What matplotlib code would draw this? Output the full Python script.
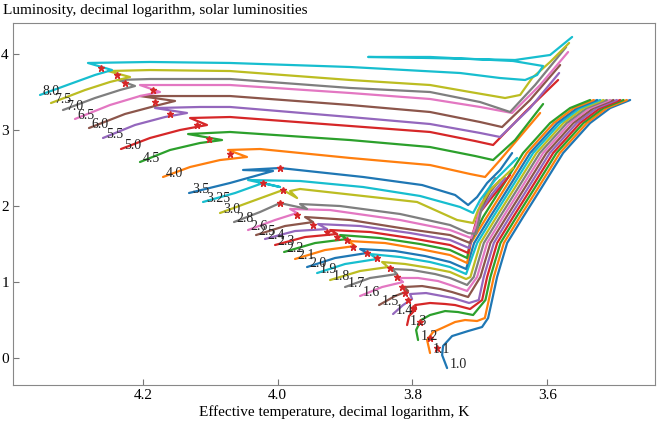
import matplotlib
matplotlib.use("Agg")
import matplotlib.pyplot as plt

plt.rcParams['font.family'] = ['Liberation Serif', 'DejaVu Serif']

# Track labels (stellar mass, solar masses), in plotting order
masses = ['1.0', '1.1', '1.2', '1.3', '1.4', '1.5', '1.6', '1.7', '1.8', '1.9',
          '2.0', '2.1', '2.2', '2.3', '2.4', '2.5', '2.6', '2.8', '3.0', '3.25',
          '3.5', '4.0', '4.5', '5.0', '5.5', '6.0', '6.5', '7.0', '7.5', '8.0']

# log Teff of each evolutionary track
track_logt = [
    [3.7486, 3.7560, 3.7546, 3.7412, 3.7174, 3.6967, 3.6877, 3.6818, 3.6744, 3.6595, 3.6358, 3.6105, 3.5764, 3.5363, 3.5066, 3.4769],
    [3.7739, 3.7783, 3.7694, 3.7560, 3.7367, 3.7219, 3.7041, 3.6926, 3.6867, 3.6793, 3.6644, 3.6407, 3.6154, 3.5813, 3.5412, 3.5115, 3.4818],
    [3.7917, 3.7946, 3.7872, 3.7739, 3.7516, 3.7323, 3.7100, 3.6917, 3.6843, 3.6694, 3.6457, 3.6204, 3.5863, 3.5462, 3.5165, 3.4868],
    [3.8080, 3.8050, 3.7946, 3.7961, 3.7739, 3.7516, 3.7367, 3.7145, 3.6966, 3.6892, 3.6743, 3.6506, 3.6253, 3.5912, 3.5511, 3.5214, 3.4917],
    [3.8288, 3.8140, 3.8006, 3.8036, 3.7798, 3.7560, 3.7397, 3.7160, 3.7016, 3.6942, 3.6793, 3.6556, 3.6303, 3.5962, 3.5561, 3.5264, 3.4967],
    [3.8496, 3.8258, 3.8065, 3.8125, 3.7857, 3.7590, 3.7412, 3.7174, 3.6992, 3.6843, 3.6606, 3.6353, 3.6012, 3.5611, 3.5314, 3.5017],
    [3.8778, 3.8451, 3.8140, 3.8214, 3.7917, 3.7620, 3.7442, 3.7189, 3.7041, 3.6892, 3.6655, 3.6402, 3.6061, 3.5660, 3.5363, 3.5066],
    [3.9001, 3.8629, 3.8229, 3.8303, 3.8006, 3.7664, 3.7442, 3.7189, 3.7090, 3.6941, 3.6704, 3.6451, 3.6110, 3.5709, 3.5412, 3.5115],
    [3.9223, 3.8778, 3.8362, 3.8451, 3.8110, 3.7739, 3.7442, 3.7204, 3.7140, 3.6991, 3.6754, 3.6501, 3.6160, 3.5759, 3.5462, 3.5165],
    [3.9416, 3.9001, 3.8526, 3.8629, 3.8184, 3.7739, 3.7442, 3.7204, 3.7040, 3.6803, 3.6550, 3.6209, 3.5808, 3.5511, 3.5214],
    [3.9565, 3.9149, 3.8674, 3.8778, 3.8258, 3.7813, 3.7442, 3.7204, 3.7085, 3.6848, 3.6595, 3.6254, 3.5853, 3.5556, 3.5259],
    [3.9743, 3.9298, 3.8852, 3.8956, 3.8407, 3.7887, 3.7442, 3.7189, 3.7134, 3.6897, 3.6644, 3.6303, 3.5902, 3.5605, 3.5308],
    [3.9906, 3.9446, 3.8971, 3.9075, 3.8481, 3.7887, 3.7442, 3.7189, 3.7145, 3.6952, 3.6699, 3.6358, 3.5957, 3.5660, 3.5363],
    [4.0040, 3.9595, 3.9119, 3.9223, 3.8629, 3.8036, 3.7442, 3.7174, 3.7115, 3.7026, 3.6803, 3.6551],
    [4.0189, 3.9743, 3.9268, 3.9402, 3.8778, 3.8036, 3.7442, 3.7160, 3.7085, 3.6996, 3.6818, 3.6625],
    [4.0322, 3.9892, 3.9476, 3.9595, 3.8926, 3.8184, 3.7442, 3.7145, 3.7070, 3.6996, 3.6848, 3.6699],
    [4.0441, 4.0040, 3.9713, 3.9817, 3.9223, 3.8184, 3.7442, 3.7130, 3.7056, 3.6996, 3.6848, 3.6744],
    [4.0649, 4.0263, 3.9966, 3.9565, 3.9669, 3.9075, 3.8184, 3.7442, 3.7174, 3.7056, 3.6996, 3.6922, 3.6774],
    [4.0857, 4.0411, 3.9921, 3.9713, 3.9817, 3.9669, 3.7932, 3.7338, 3.7100, 3.7026, 3.6848, 3.6506],
    [4.1109, 4.0634, 4.0218, 3.9966, 4.0441, 3.9669, 3.8733, 3.7887, 3.7293, 3.7100, 3.6996, 3.6774, 3.6447],
    [4.1317, 4.0708, 4.0070, 4.0515, 3.9966, 3.8733, 3.7857, 3.7367, 3.7174, 3.7041, 3.6892, 3.6699, 3.6521],
    [4.1703, 4.1302, 4.0857, 4.0456, 4.0738, 4.0263, 3.8926, 3.7739, 3.7144, 3.6922, 3.6699, 3.6105],
    [4.2045, 4.1599, 4.1154, 4.0827, 4.1331, 4.0708, 3.8926, 3.7739, 3.7070, 3.6803, 3.6477, 3.6061],
    [4.2327, 4.1896, 4.1451, 4.1050, 4.1302, 4.0708, 3.8926, 3.7739, 3.7070, 3.6803, 3.6328, 3.5838],
    [4.2594, 4.2119, 4.1674, 4.1347, 4.1822, 4.1154, 4.0708, 3.8926, 3.7739, 3.6996, 3.6699, 3.6254, 3.5823],
    [4.2802, 4.2267, 4.1822, 4.1525, 4.2045, 4.1154, 4.0708, 3.8926, 3.7739, 3.6996, 3.6670, 3.6254, 3.5808],
    [4.3010, 4.2490, 4.2045, 4.1748, 4.2045, 4.1451, 4.0708, 3.8926, 3.7739, 3.6996, 3.6521, 3.6105, 3.5690],
    [4.3188, 4.2713, 4.2342, 4.2119, 4.2371, 4.1896, 4.0708, 3.8926, 3.7739, 3.6996, 3.6551, 3.6180, 3.5719],
    [4.3366, 4.2861, 4.2490, 4.2193, 4.2520, 4.1896, 4.0708, 3.8926, 3.7739, 3.7145, 3.6625, 3.6402, 3.6224, 3.5957, 3.5675],
    [4.3529, 4.3084, 4.2713, 4.2460, 4.2817, 4.1896, 4.0708, 3.8926, 3.7293, 3.6699, 3.6328, 3.6150, 3.6061, 3.6506, 3.7739, 3.8659, 3.7739, 3.6477, 3.5957, 3.5630],
]

# log L / Lsun of each evolutionary track
track_logl = [
    [-0.132, 0.039, 0.158, 0.289, 0.355, 0.408, 0.526, 0.763, 1.066, 1.513, 1.855, 2.211, 2.697, 3.092, 3.289, 3.395],
    [0.066, 0.237, 0.342, 0.395, 0.474, 0.500, 0.487, 0.526, 0.763, 1.066, 1.513, 1.855, 2.211, 2.697, 3.092, 3.289, 3.395],
    [0.237, 0.368, 0.500, 0.566, 0.618, 0.605, 0.566, 0.763, 1.066, 1.513, 1.855, 2.211, 2.697, 3.092, 3.289, 3.395],
    [0.434, 0.553, 0.645, 0.697, 0.724, 0.711, 0.697, 0.645, 0.763, 1.066, 1.513, 1.855, 2.211, 2.697, 3.092, 3.289, 3.395],
    [0.579, 0.697, 0.776, 0.842, 0.855, 0.816, 0.789, 0.724, 0.763, 1.066, 1.513, 1.855, 2.211, 2.697, 3.092, 3.289, 3.395],
    [0.697, 0.816, 0.882, 0.934, 0.947, 0.908, 0.868, 0.803, 1.066, 1.513, 1.855, 2.211, 2.697, 3.092, 3.289, 3.395],
    [0.816, 0.934, 1.000, 1.053, 1.053, 1.013, 0.961, 0.882, 1.066, 1.513, 1.855, 2.211, 2.697, 3.092, 3.289, 3.395],
    [0.934, 1.053, 1.105, 1.171, 1.158, 1.105, 1.053, 0.961, 1.066, 1.513, 1.855, 2.211, 2.697, 3.092, 3.289, 3.395],
    [1.026, 1.145, 1.197, 1.263, 1.237, 1.184, 1.132, 1.039, 1.066, 1.513, 1.855, 2.211, 2.697, 3.092, 3.289, 3.395],
    [1.118, 1.237, 1.303, 1.368, 1.329, 1.263, 1.197, 1.105, 1.513, 1.855, 2.211, 2.697, 3.092, 3.289, 3.395],
    [1.197, 1.316, 1.382, 1.434, 1.408, 1.342, 1.263, 1.171, 1.513, 1.855, 2.211, 2.697, 3.092, 3.289, 3.395],
    [1.303, 1.421, 1.474, 1.540, 1.513, 1.434, 1.355, 1.250, 1.513, 1.855, 2.211, 2.697, 3.092, 3.289, 3.395],
    [1.395, 1.513, 1.566, 1.618, 1.579, 1.500, 1.421, 1.316, 1.513, 1.855, 2.211, 2.697, 3.092, 3.289, 3.395],
    [1.487, 1.592, 1.632, 1.684, 1.658, 1.579, 1.487, 1.382, 1.605, 1.882, 2.132, 2.408],
    [1.566, 1.671, 1.697, 1.763, 1.737, 1.645, 1.553, 1.447, 1.658, 1.921, 2.158, 2.368],
    [1.618, 1.737, 1.789, 1.855, 1.816, 1.711, 1.618, 1.513, 1.711, 1.947, 2.184, 2.342],
    [1.684, 1.816, 1.908, 1.961, 1.947, 1.816, 1.684, 1.579, 1.750, 2.013, 2.211, 2.303],
    [1.789, 1.921, 2.039, 1.961, 2.026, 2.000, 1.895, 1.750, 1.645, 1.632, 1.882, 2.145, 2.368],
    [1.908, 2.053, 2.211, 2.105, 2.197, 2.224, 2.053, 1.816, 1.776, 1.947, 2.211, 2.500],
    [2.053, 2.171, 2.303, 2.250, 2.342, 2.329, 2.250, 2.132, 1.987, 1.908, 2.079, 2.342, 2.632],
    [2.171, 2.303, 2.461, 2.474, 2.500, 2.382, 2.276, 2.145, 2.013, 2.118, 2.303, 2.474, 2.697],
    [2.382, 2.513, 2.605, 2.645, 2.737, 2.750, 2.632, 2.539, 2.421, 2.382, 2.605, 3.224],
    [2.579, 2.737, 2.829, 2.868, 2.947, 2.974, 2.868, 2.776, 2.658, 2.605, 2.868, 3.342],
    [2.750, 2.895, 3.000, 3.066, 3.158, 3.171, 3.053, 2.974, 2.855, 2.803, 3.237, 3.658],
    [2.895, 3.066, 3.171, 3.224, 3.289, 3.303, 3.303, 3.171, 3.079, 2.961, 2.908, 3.289, 3.750],
    [3.026, 3.211, 3.316, 3.382, 3.447, 3.447, 3.447, 3.329, 3.237, 3.105, 3.039, 3.395, 3.855],
    [3.145, 3.329, 3.447, 3.500, 3.592, 3.592, 3.592, 3.487, 3.408, 3.303, 3.224, 3.592, 4.026],
    [3.263, 3.421, 3.526, 3.579, 3.658, 3.671, 3.671, 3.553, 3.500, 3.368, 3.237, 3.592, 4.092],
    [3.355, 3.526, 3.632, 3.697, 3.776, 3.789, 3.776, 3.658, 3.592, 3.500, 3.421, 3.461, 3.684, 3.895, 4.145],
    [3.461, 3.605, 3.724, 3.789, 3.882, 3.895, 3.882, 3.829, 3.750, 3.684, 3.658, 3.724, 3.842, 3.908, 3.961, 3.961, 3.947, 3.921, 3.987, 4.224],
]

# red asterisks (end of main sequence), one per track
star_logt = [3.7635, 3.7739, 3.7887, 3.7991, 3.8065, 3.8110, 3.8155, 3.8229, 3.8333, 3.8526,
             3.8674, 3.8882, 3.8971, 3.9119, 3.9268, 3.9476, 3.9713, 3.9966, 3.9921, 4.0218,
             3.9966, 4.0708, 4.1020, 4.1198, 4.1599, 4.1822, 4.1852, 4.2267, 4.2386, 4.2624]
star_logl = [0.132, 0.263, 0.474, 0.658, 0.763, 0.855, 0.934, 1.066, 1.184, 1.316,
             1.382, 1.461, 1.553, 1.592, 1.658, 1.750, 1.882, 2.039, 2.211, 2.303,
             2.500, 2.684, 2.882, 3.066, 3.211, 3.368, 3.526, 3.618, 3.724, 3.816]

fig = plt.figure(figsize=(6.6, 4.25), dpi=100)
ax = fig.add_axes([0.0197, 0.0941, 0.9727, 0.8518])

for label, logt, logl in zip(masses, track_logt, track_logl):
    ax.plot(logt, logl, lw=1.6, solid_capstyle='round')
    ax.annotate(label, (logt[0], logl[0]), xytext=(2, 0), textcoords='offset points',
                fontsize=10, color='#222222')

ax.plot(star_logt, star_logl, ls='none', marker='*', ms=5, color='tab:red')

ax.set_xlim(4.393, 3.44)
ax.set_ylim(-0.355, 4.408)
ax.set_xticks([4.2, 4.0, 3.8, 3.6])
ax.set_xticklabels(['4.2', '4.0', '3.8', '3.6'])
ax.set_yticks([0, 1, 2, 3, 4])
ax.tick_params(direction='in', length=4, color='#777777', labelsize=11, pad=3)
for s in ax.spines.values():
    s.set_color('#888888')

ax.set_xlabel('Effective temperature, decimal logarithm, K', fontsize=11, labelpad=2)
fig.text(0.004, 0.99, 'Luminosity, decimal logarithm, solar luminosities',
         fontsize=11, va='top', ha='left')

fig.savefig('out.png', dpi=100)
